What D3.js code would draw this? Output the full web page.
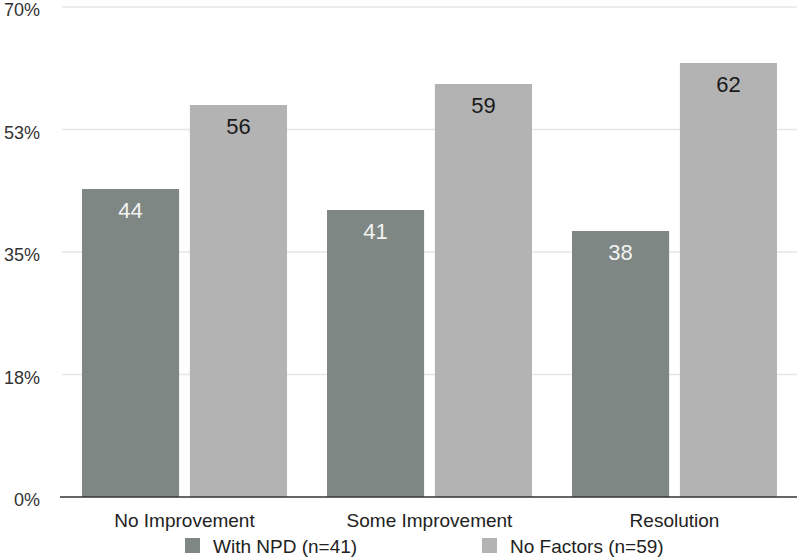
<!DOCTYPE html>
<html>
<head>
<meta charset="utf-8">
<script src="https://cdn.jsdelivr.net/npm/d3@7"></script>
<style>
  body { margin: 0; background: #fff; }
  svg { display: block; font-family: "Liberation Sans", Arial, Helvetica, sans-serif; }
</style>
</head>
<body>
<div id="chart"></div>
<script>
const categories = ["No Improvement", "Some Improvement", "Resolution"];
const seriesNames = ["With NPD (n=41)", "No Factors (n=59)"];
const withNpd = [44, 41, 38];
const noFactors = [56, 59, 62];
const yTicks = [0, 17.5, 35, 52.5, 70];
const yTickLabels = ["0%", "18%", "35%", "53%", "70%"];

const colors = ["#7e8783", "#b3b3b3"];
const labelColors = ["#f2f2f2", "#1a1a1a"];

const width = 800;
const height = 559;
const margin = { top: 7, right: 3, bottom: 62, left: 62 };

const svg = d3.select("#chart").append("svg")
  .attr("width", width)
  .attr("height", height);

const rows = categories.map((c, i) => ({ category: c, values: [withNpd[i], noFactors[i]] }));

const x0 = d3.scaleBand()
  .domain(categories)
  .range([margin.left, width - margin.right])
  .padding(0);

const x1 = d3.scaleBand()
  .domain([0, 1])
  .range([20, x0.bandwidth() - 20])
  .paddingInner(0.1);

const y = d3.scaleLinear()
  .domain([0, 70])
  .range([height - margin.bottom, margin.top]);

// gridlines
svg.append("g")
  .selectAll("line")
  .data(yTicks.slice(1))
  .join("line")
  .attr("x1", margin.left)
  .attr("x2", width - margin.right)
  .attr("y1", d => y(d))
  .attr("y2", d => y(d))
  .attr("stroke", "#e6e6e6")
  .attr("stroke-width", 1.5);

// y tick labels
svg.append("g")
  .selectAll("text")
  .data(yTicks)
  .join("text")
  .attr("x", 40)
  .attr("y", d => y(d) + 3)
  .attr("dy", "0.35em")
  .attr("text-anchor", "end")
  .attr("font-size", 18)
  .attr("fill", "#333")
  .text((d, i) => yTickLabels[i]);

// bars
const groups = svg.append("g")
  .selectAll("g")
  .data(rows)
  .join("g")
  .attr("transform", d => `translate(${x0(d.category)},0)`);

groups.selectAll("rect")
  .data(d => d.values.map((v, i) => ({ v, i })))
  .join("rect")
  .attr("x", d => x1(d.i))
  .attr("width", x1.bandwidth())
  .attr("y", d => y(d.v))
  .attr("height", d => y(0) - y(d.v))
  .attr("fill", d => colors[d.i]);

groups.selectAll("text")
  .data(d => d.values.map((v, i) => ({ v, i })))
  .join("text")
  .attr("x", d => x1(d.i) + x1.bandwidth() / 2)
  .attr("y", d => y(d.v) + 29)
  .attr("text-anchor", "middle")
  .attr("font-size", 22)
  .attr("fill", d => labelColors[d.i])
  .text(d => d.v);

// x axis line
svg.append("line")
  .attr("x1", margin.left - 2)
  .attr("x2", width - margin.right)
  .attr("y1", y(0))
  .attr("y2", y(0))
  .attr("stroke", "#333")
  .attr("stroke-width", 1.5);

// category labels
svg.append("g")
  .selectAll("text")
  .data(categories)
  .join("text")
  .attr("x", d => x0(d) + x0.bandwidth() / 2)
  .attr("y", 527)
  .attr("text-anchor", "middle")
  .attr("font-size", 19)
  .attr("fill", "#222")
  .text(d => d);

// legend
const legendX = [185, 482];
const legend = svg.append("g")
  .selectAll("g")
  .data(seriesNames)
  .join("g")
  .attr("transform", (d, i) => `translate(${legendX[i]},538)`);

legend.append("rect")
  .attr("width", 15)
  .attr("height", 15)
  .attr("fill", (d, i) => colors[i]);

legend.append("text")
  .attr("x", 28)
  .attr("y", 8)
  .attr("dy", "0.35em")
  .attr("font-size", 19)
  .attr("fill", "#222")
  .text(d => d);
</script>
</body>
</html>
